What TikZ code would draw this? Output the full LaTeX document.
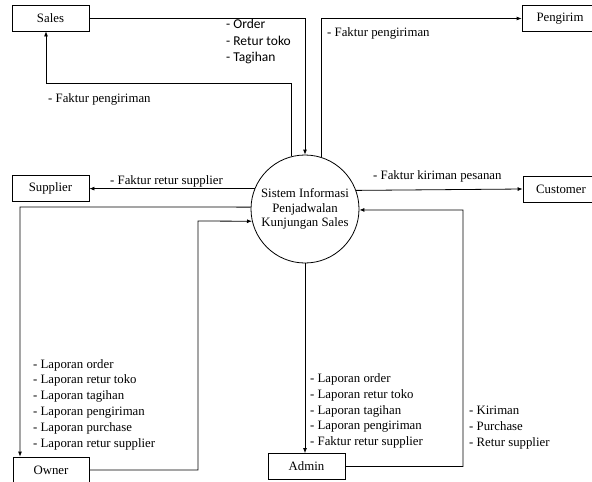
\documentclass[tikz,border=0pt]{standalone}
\usepackage{fontspec}
\setmainfont{Liberation Serif}
\newfontfamily\labelsans{Carlito}
\usetikzlibrary{arrows.meta}
\begin{document}
\begin{tikzpicture}[x=1pt,y=-1pt,
  entity/.style={draw,line width=0.8pt,inner sep=0pt,minimum height=26pt,
    font=\fontsize{12.8}{14}\selectfont},
  process/.style={draw,line width=0.8pt,circle,minimum size=108pt,inner sep=0pt,
    align=center,font=\fontsize{12.8}{14.7}\selectfont},
  flow/.style={line width=0.8pt,-{Latex[length=5pt,width=4pt]}},
  lbl/.style={anchor=west,inner sep=0pt,align=left,
    font=\fontsize{12.8}{15.8}\selectfont},
  lblsans/.style={anchor=west,inner sep=0pt,align=left,
    font=\labelsans\fontsize{13.5}{16.5}\selectfont}]
\clip (0,0) rectangle (592,482);
\useasboundingbox (0,0) rectangle (592,482);

% external entities
\node[entity,minimum width=77pt] (sales) at (50.5,18) {Sales};
\node[entity,minimum width=76pt] (peng) at (560,18.5) {Pengirim};
\node[entity,minimum width=77pt] (supp) at (50.5,188) {Supplier};
\node[entity,minimum width=76pt] (cust) at (561,189) {Customer};
\node[entity,minimum width=76pt] (owner) at (51,470) {Owner};
\node[entity,minimum width=77pt] (admin) at (306.5,466.5) {Admin};

% central process
\node[process] (sys) at (305,209) {Sistem Informasi\\Penjadwalan\\Kunjungan Sales};

% bend points
\coordinate (s1) at (46,83);
\coordinate (o1) at (20,207);
\coordinate (o2) at (198,221);
\coordinate (a1) at (463,210);

% flows
\draw[flow] (sales.east) -| (sys.north);
\draw[flow] (sys.105) |- (s1) -- (s1 |- sales.south);
\draw[flow] (sys.72) |- (peng.west);
\draw[flow] (sys.158) -- (sys.158 -| supp.east);
\draw[flow] (sys.178) -- (o1) -- (o1 |- owner.north);
\draw[flow] (owner.east) -| (o2) -- (sys.193);
\draw[flow] (sys.20) -- (cust.west);
\draw[flow] (admin.east) -| (a1) -- (sys.359);
\draw[flow] (sys.south) -- (sys.south |- admin.north);

% flow labels
\node[lblsans] (l1) at (226,41.5) {- Order\\- Retur toko\\- Tagihan};
\node[lbl] (l2) at (48,99) {- Faktur pengiriman};
\node[lbl] (l3) at (327,33) {- Faktur pengiriman};
\node[lbl] (l4) at (110,181) {- Faktur retur supplier};
\node[lbl] (l5) at (373,176) {- Faktur kiriman pesanan};
\node[lbl] (l6) at (33,404.5) {- Laporan order\\- Laporan retur toko\\- Laporan tagihan\\- Laporan pengiriman\\- Laporan purchase\\- Laporan retur supplier};
\node[lbl] (l7) at (310,411) {- Laporan order\\- Laporan retur toko\\- Laporan tagihan\\- Laporan pengiriman\\- Faktur retur supplier};
\node[lbl] (l8) at (469,427.5) {- Kiriman\\- Purchase\\- Retur supplier};
\end{tikzpicture}
\end{document}
